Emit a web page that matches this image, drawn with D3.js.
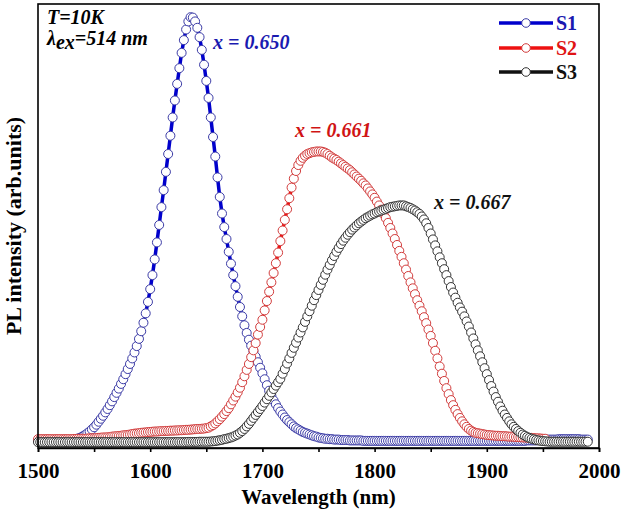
<!DOCTYPE html>
<html>
<head>
<meta charset="utf-8">
<script src="https://cdn.jsdelivr.net/npm/d3@7"></script>
<style>
  body { margin: 0; background: #fff; }
  svg { display: block; }
  text { font-family: "Liberation Serif", "Times New Roman", serif; font-weight: bold; }
</style>
</head>
<body>
<div id="chart"></div>
<script>
// measurement grid, 2 nm step
var wavelength = d3.range(1500, 1991, 2);

// PL intensity (arb. units)
var s1 = [
  0.5,0.5,0.5,0.5,0.5,0.5,0.5,0.5,0.5,0.5,
  0.5,0.5,0.5,0.55,0.6,0.7,0.8,0.9,1.1,1.3,
  1.6,1.9,2.3,2.7,3.2,3.7,4.3,5.0,5.7,6.4,
  7.2,8.0,8.9,9.8,10.8,11.8,12.8,13.9,15.0,16.2,
  17.4,18.6,19.9,21.3,22.8,24.5,26.3,28.3,30.5,33.2,
  36.2,39.5,43.2,47.2,51.3,55.5,59.5,63.8,68.0,72.3,
  76.6,80.6,84.5,88.2,91.8,94.8,97.3,99.2,100.2,100.1,
  99.2,97.7,95.5,92.5,89.0,85.2,81.2,76.6,72.0,67.4,
  62.5,57.9,54.0,50.8,48.0,45.0,42.2,39.5,36.9,34.4,
  32.0,29.8,27.7,25.9,24.3,22.9,21.6,20.3,19.0,17.7,
  16.4,15.0,13.6,12.3,11.1,10.0,9.1,8.2,7.4,6.7,
  6.0,5.4,4.9,4.4,3.9,3.5,3.2,2.9,2.6,2.4,
  2.2,2.0,1.8,1.6,1.5,1.3,1.2,1.1,1.0,1.0,
  0.9,0.9,0.8,0.8,0.8,0.7,0.7,0.7,0.7,0.6,
  0.6,0.6,0.6,0.6,0.6,0.5,0.5,0.5,0.5,0.5,
  0.5,0.5,0.5,0.5,0.5,0.5,0.5,0.5,0.5,0.5,
  0.5,0.5,0.5,0.5,0.5,0.5,0.5,0.5,0.5,0.5,
  0.5,0.5,0.5,0.5,0.5,0.5,0.5,0.5,0.5,0.5,
  0.5,0.5,0.5,0.5,0.5,0.5,0.5,0.5,0.5,0.5,
  0.5,0.5,0.5,0.5,0.5,0.5,0.5,0.5,0.5,0.5,
  0.5,0.5,0.5,0.5,0.5,0.5,0.5,0.5,0.5,0.5,
  0.5,0.5,0.5,0.5,0.5,0.5,0.5,0.5,0.6,0.6,
  0.6,0.6,0.6,0.7,0.7,0.7,0.7,0.8,0.8,0.8,
  0.8,0.8,0.9,0.9,0.9,0.9,0.9,0.9,0.9,0.9,
  0.9,0.9,0.8,0.8,0.8,0.8
];

var s2 = [
  0.9,0.9,0.9,0.9,0.9,0.9,0.9,0.9,0.9,0.9,
  0.9,0.9,0.9,0.9,0.9,0.9,0.95,0.95,1.0,1.0,
  1.0,1.0,1.05,1.1,1.1,1.1,1.15,1.2,1.25,1.3,
  1.3,1.35,1.4,1.5,1.55,1.6,1.65,1.7,1.8,1.85,
  1.9,2.0,2.1,2.2,2.25,2.3,2.4,2.45,2.5,2.55,
  2.6,2.65,2.7,2.7,2.75,2.8,2.8,2.85,2.85,2.9,
  2.9,2.95,2.95,3.0,3.0,3.05,3.1,3.1,3.15,3.2,
  3.25,3.3,3.3,3.35,3.4,3.5,3.6,3.9,4.2,4.6,
  5.1,5.6,6.2,6.8,7.5,8.2,9.1,10.0,10.9,11.9,
  13.0,14.3,15.7,17.2,18.6,20.2,21.8,23.5,25.5,27.3,
  29.0,31.2,33.4,35.6,37.8,40.0,42.3,44.8,47.5,50.0,
  52.5,55.0,57.6,60.1,62.2,64.0,65.4,66.4,67.1,67.6,
  68.0,68.2,68.4,68.5,68.6,68.6,68.6,68.5,68.3,68.0,
  67.6,67.2,66.9,66.6,66.2,65.8,65.4,65.0,64.6,64.2,
  63.7,63.2,62.7,62.2,61.7,61.1,60.6,59.9,59.2,58.5,
  57.7,56.8,55.9,54.9,53.9,52.9,51.8,50.6,49.3,48.0,
  46.6,45.2,43.8,42.3,40.8,39.3,37.8,36.4,35.0,33.6,
  32.3,31.0,29.6,28.2,26.7,25.2,23.5,21.7,19.9,18.0,
  16.3,14.6,12.9,11.5,10.1,8.9,7.8,6.8,5.9,5.1,
  4.4,3.8,3.3,2.9,2.6,2.4,2.3,2.2,2.1,2.0,
  1.9,1.85,1.8,1.75,1.7,1.7,1.65,1.6,1.6,1.55,
  1.5,1.5,1.45,1.4,1.4,1.35,1.3,1.3,1.25,1.2,
  1.2,1.15,1.1,1.1,1.05,1.0,1.0
];

var s3 = [
  0.2,0.2,0.2,0.2,0.2,0.2,0.2,0.2,0.2,0.2,
  0.2,0.2,0.2,0.2,0.2,0.2,0.2,0.2,0.2,0.2,
  0.2,0.2,0.2,0.2,0.2,0.2,0.2,0.2,0.2,0.2,
  0.2,0.2,0.2,0.2,0.2,0.2,0.2,0.2,0.2,0.2,
  0.2,0.2,0.2,0.2,0.2,0.2,0.2,0.2,0.2,0.2,
  0.2,0.2,0.2,0.2,0.2,0.2,0.2,0.2,0.2,0.2,
  0.2,0.2,0.2,0.2,0.2,0.2,0.2,0.25,0.25,0.25,
  0.25,0.25,0.3,0.3,0.3,0.3,0.3,0.35,0.4,0.45,
  0.55,0.65,0.75,0.9,1.0,1.15,1.3,1.5,1.75,2.0,
  2.4,2.8,3.3,3.9,4.5,5.2,5.9,6.6,7.3,8.0,
  8.7,9.5,10.3,11.1,11.9,12.7,13.5,14.3,15.1,16.3,
  17.4,18.7,19.9,21.2,22.4,23.6,24.8,26.0,27.2,28.5,
  29.8,31.0,32.3,33.6,34.8,36.0,37.2,38.4,39.6,40.8,
  41.9,43.0,44.0,45.0,45.9,46.8,47.6,48.3,49.0,49.6,
  50.2,50.7,51.2,51.7,52.1,52.5,52.9,53.2,53.5,53.8,
  54.0,54.3,54.5,54.7,54.9,55.1,55.3,55.5,55.6,55.7,
  55.8,55.9,55.9,55.9,55.7,55.5,55.3,55.0,54.7,54.3,
  53.9,53.3,52.6,51.7,50.6,49.3,47.9,46.5,45.1,43.7,
  42.3,40.9,39.5,38.1,36.7,35.4,34.2,33.0,31.9,30.9,
  29.8,28.6,27.4,26.0,24.6,23.2,21.8,20.4,19.0,17.6,
  16.2,14.8,13.4,12.1,10.8,9.7,8.6,7.6,6.7,5.9,
  5.1,4.4,3.8,3.3,2.8,2.4,2.0,1.7,1.4,1.2,
  1.0,0.85,0.7,0.6,0.5,0.45,0.4,0.35,0.3,0.3,
  0.3,0.3,0.3,0.3,0.3,0.3,0.3,0.3,0.3,0.3,
  0.3,0.3,0.3,0.3,0.3,0.3
];

var seriesNames = ["S1", "S2", "S3"];
var majorTicks = [1500, 1600, 1700, 1800, 1900, 2000];
var minorTicks = [1550, 1650, 1750, 1850, 1950];

var width = 621, height = 513;
var margin = {left: 38, right: 599, top: 4, bottom: 448};

var svg = d3.select("#chart").append("svg")
    .attr("width", width)
    .attr("height", height);

var x = d3.scaleLinear().domain([1500, 2000]).range([margin.left, margin.right]);
var y = d3.scaleLinear().domain([-1.18, 103.3]).range([margin.bottom, margin.top]);

var styles = [
  {line: "#0000cc", lw: 3.5, marker: "#3b3ba6", label: "#1a1ab0"},
  {line: "#ee1111", lw: 3.5, marker: "#d23c3c", label: "#e01414"},
  {line: "#111111", lw: 3.5, marker: "#333333", label: "#111111"}
];

var all = [s1, s2, s3];

var line = d3.line()
    .x(function(d) { return x(d.w); })
    .y(function(d) { return y(d.v); });

all.forEach(function(vals, k) {
  var pts = vals.map(function(v, i) { return {w: wavelength[i], v: v}; });
  var g = svg.append("g").attr("class", "series s" + (k + 1));
  g.append("path")
      .datum(pts)
      .attr("fill", "none")
      .attr("stroke", styles[k].line)
      .attr("stroke-width", styles[k].lw)
      .attr("d", line);
  g.selectAll("circle")
      .data(pts)
    .enter().append("circle")
      .attr("cx", function(d) { return x(d.w); })
      .attr("cy", function(d) { return y(d.v); })
      .attr("r", 4.5)
      .attr("fill", "#fff")
      .attr("stroke", styles[k].marker)
      .attr("stroke-width", 1);
});

// frame
svg.append("rect")
    .attr("x", margin.left).attr("y", margin.top)
    .attr("width", margin.right - margin.left).attr("height", margin.bottom - margin.top)
    .attr("fill", "none")
    .attr("stroke", "#000")
    .attr("stroke-width", 1.6);

// x axis
var xAxis = svg.append("g")
    .attr("transform", "translate(0," + margin.bottom + ")")
    .call(d3.axisBottom(x).tickValues(majorTicks).tickSize(4).tickPadding(11)
          .tickFormat(d3.format("d")));
xAxis.select(".domain").attr("stroke-width", 1.6);
xAxis.selectAll(".tick line").attr("stroke-width", 1.6);
xAxis.selectAll("text")
    .style("font-family", "'Liberation Serif', serif")
    .style("font-weight", "bold")
    .style("font-size", "21px")
    .attr("fill", "#000");

svg.append("g")
    .attr("transform", "translate(0," + margin.bottom + ")")
    .call(d3.axisBottom(x).tickValues(minorTicks).tickSize(4).tickFormat(""))
    .call(function(g) { g.select(".domain").remove(); })
    .selectAll(".tick line").attr("stroke-width", 1.6);

// axis titles
svg.append("text")
    .attr("x", (margin.left + margin.right) / 2)
    .attr("y", 504)
    .attr("text-anchor", "middle")
    .style("font-size", "21px")
    .text("Wavelength (nm)");

svg.append("text")
    .attr("transform", "translate(21," + ((margin.top + margin.bottom) / 2) + ") rotate(-90)")
    .attr("text-anchor", "middle")
    .style("font-size", "22px")
    .text("PL intensity (arb.units)");

// legend
var legY = [23, 48, 72];
seriesNames.forEach(function(name, k) {
  var lg = svg.append("g");
  lg.append("line")
      .attr("x1", 499).attr("x2", 553)
      .attr("y1", legY[k]).attr("y2", legY[k])
      .attr("stroke", styles[k].line)
      .attr("stroke-width", 3.5);
  lg.append("circle")
      .attr("cx", 526).attr("cy", legY[k]).attr("r", 4.3)
      .attr("fill", "#fff")
      .attr("stroke", styles[k].marker)
      .attr("stroke-width", 1);
  lg.append("text")
      .attr("x", 556).attr("y", legY[k] + 7)
      .attr("fill", styles[k].label)
      .style("font-size", "20px")
      .text(name);
});

// annotations
var ann = svg.append("g").style("font-style", "italic").style("font-size", "20px");
ann.append("text").attr("x", 47).attr("y", 24).text("T=10K");
var lam = ann.append("text").attr("x", 47).attr("y", 45);
lam.append("tspan").text("λ");
lam.append("tspan").attr("dy", 4).text("ex");
lam.append("tspan").attr("dy", -4).text("=514 nm");

ann.append("text").attr("x", 213).attr("y", 49).attr("fill", "#1a1ab0").text("x = 0.650");
ann.append("text").attr("x", 295).attr("y", 137).attr("fill", "#d01414").text("x = 0.661");
ann.append("text").attr("x", 434).attr("y", 209).attr("fill", "#111").text("x = 0.667");
</script>
</body>
</html>
